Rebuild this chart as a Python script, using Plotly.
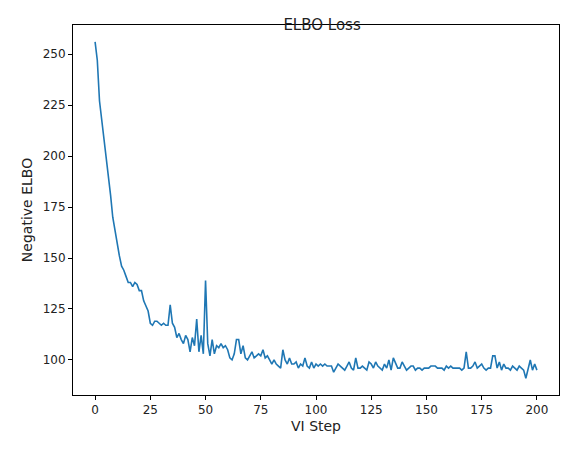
import plotly.graph_objects as go

loss = [256, 247, 227, 218, 209, 202, 193, 181, 170, 163,
        157, 151, 146, 144, 141, 138, 138, 136, 138, 137,
        134, 134, 129, 126, 124, 118, 117, 119, 119, 118,
        117, 118, 117, 117, 127, 118, 116, 111, 113, 110,
        108, 112, 110, 104, 111, 107, 120, 104, 112, 103,
        139, 108, 102, 110, 103, 107, 106, 108, 106, 107,
        105, 101, 100, 103, 110, 110, 103, 107, 101, 100,
        102, 104, 101, 102, 103, 102, 105, 101, 102, 100,
        98, 100, 98, 97, 96, 105, 100, 98, 101, 98,
        98, 99, 96, 98, 97, 101, 97, 96, 99, 96,
        98, 97, 98, 97, 98, 97, 97, 97, 94, 96,
        98, 97, 96, 95, 97, 99, 96, 95, 101, 96,
        96, 97, 96, 95, 99, 98, 96, 99, 97, 96,
        95, 98, 96, 100, 95, 101, 98, 96, 96, 99,
        97, 95, 96, 97, 97, 95, 96, 96, 95, 96,
        96, 96, 97, 97, 97, 96, 96, 96, 95, 97,
        96, 97, 96, 96, 96, 96, 95, 96, 104, 96,
        96, 97, 99, 96, 97, 98, 96, 95, 96, 96,
        102, 102, 96, 99, 95, 98, 96, 96, 95, 97,
        96, 95, 97, 96, 95, 91, 96, 100, 95, 98, 95]
steps = list(range(len(loss)))

fig = go.Figure(go.Scatter(x=steps, y=loss, mode="lines",
                           line=dict(color="#1f77b4", width=1.6)))

axis = dict(showgrid=False, zeroline=False, showline=True, mirror=True,
            linecolor="black", linewidth=1, ticks="outside", ticklen=4,
            tickcolor="black")
fig.update_layout(
    width=571, height=455,
    paper_bgcolor="white", plot_bgcolor="white",
    font=dict(family="DejaVu Sans", size=12, color="#222"),
    title=dict(text="ELBO Loss", x=0.55, xanchor="center", y=0.975, font=dict(size=15)),
    margin=dict(l=65, r=20, t=17, b=68),
    showlegend=False,
    xaxis=dict(axis, title=dict(text="VI Step", standoff=4), range=[-10, 210],
               tickvals=[0, 25, 50, 75, 100, 125, 150, 175, 200]),
    yaxis=dict(axis, title=dict(text="Negative ELBO", standoff=6), range=[82.8, 264.3],
               tickvals=[100, 125, 150, 175, 200, 225, 250]),
)
fig.write_html("out.html")
